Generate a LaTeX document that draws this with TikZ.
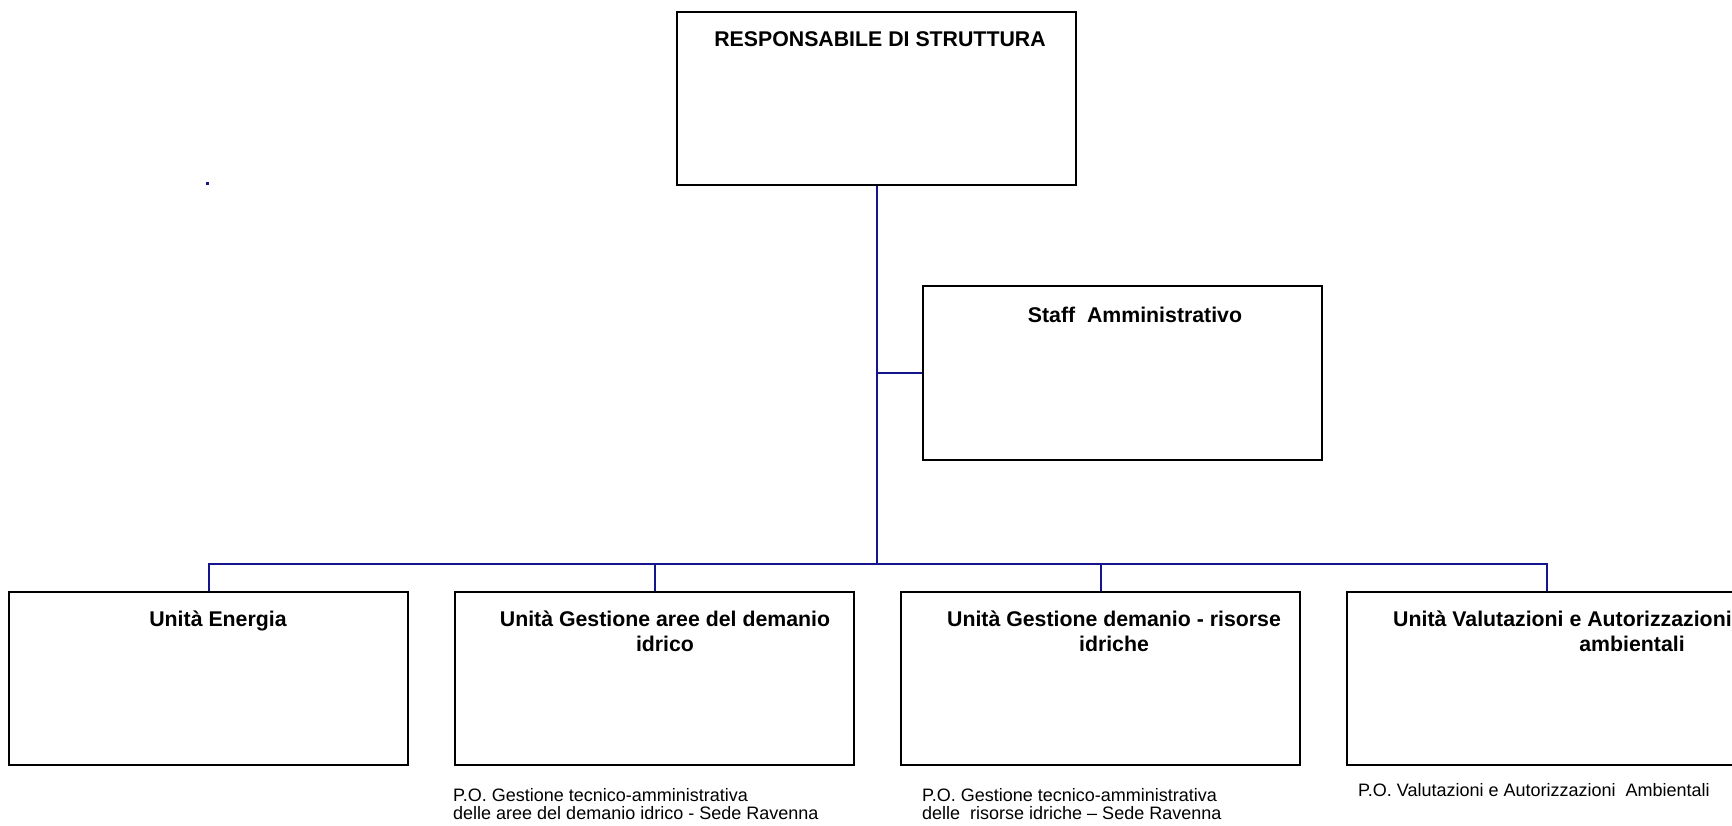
\documentclass[tikz,border=0pt]{standalone}
\usepackage{fontspec}
\setmainfont{Liberation Sans}
\definecolor{conn}{RGB}{20,20,140}
\begin{document}
\begin{tikzpicture}[x=1pt,y=-1pt,
 box/.style={draw=black,line width=2.2pt,rectangle,inner sep=0pt,anchor=north west,minimum width=399pt},
 ttl/.style={font=\fontsize{21.3}{25}\selectfont\bfseries,align=center,anchor=base,inner sep=0pt},
 po/.style={font=\fontsize{18}{17.5}\selectfont,align=left,anchor=base west,inner sep=0pt},
 link/.style={draw=conn,line width=2.2pt}]
\useasboundingbox (0,0) rectangle (1732,825);
\clip (0,0) rectangle (1732,825);
% boxes
\node[box,minimum height=173pt] (resp) at (676,11) {};
\node[box,minimum height=174pt] (staff) at (922,285) {};
\node[box,minimum height=173pt] (energia) at (8,591) {};
\node[box,minimum height=173pt] (aree) at (454,591) {};
\node[box,minimum height=173pt] (risorse) at (900,591) {};
\node[box,minimum height=173pt] (valut) at (1346,591) {};
% titles
\node[ttl] (respT) at (880,46) {RESPONSABILE DI STRUTTURA};
\node[ttl] (staffT) at (1135,322) {Staff\ \ Amministrativo};
\node[ttl] (energiaT) at (218,626) {Unità Energia};
\node[ttl] (areeT) at (665,651) {Unità Gestione aree del demanio\\idrico};
\node[ttl] (risorseT) at (1114,651) {Unità Gestione demanio - risorse\\idriche};
\node[ttl,anchor=base west] (valutT) at (1393,626) {Unità Valutazioni e Autorizzazioni};
\node[ttl] (valutT2) at (1632,651) {ambientali};
% P.O. texts
\node[po] (areePO) at (453,819) {P.O. Gestione tecnico-amministrativa\\delle aree del demanio idrico - Sede Ravenna};
\node[po] (risorsePO) at (922,819) {P.O. Gestione tecnico-amministrativa\\delle\ \ risorse idriche – Sede Ravenna};
\node[po] (valutPO) at (1358,796) {P.O. Valutazioni e Autorizzazioni\ \ Ambientali};
% connectors
\coordinate (bus) at (0,564);
\draw[link] (resp.south) -- (resp.south |- bus);
\draw[link] (staff.west) -- (staff.west -| resp.south);
\draw[link] (energia.north) |- (bus -| valut.north) -- (valut.north);
\draw[link] (aree.north) -- (aree.north |- bus);
\draw[link] (risorse.north) -- (risorse.north |- bus);
% stray mark
\fill[conn] (206,182) rectangle (209,184.5);
\end{tikzpicture}
\end{document}
